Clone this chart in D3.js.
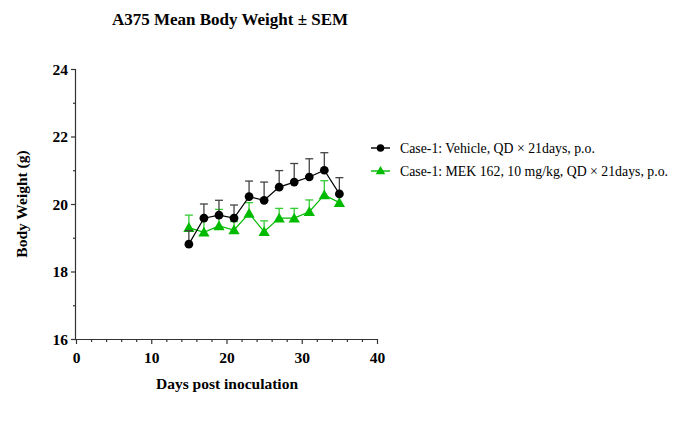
<!DOCTYPE html>
<html><head><meta charset="utf-8">
<script src="https://cdn.jsdelivr.net/npm/d3@7"></script>
<style>body{margin:0;background:#fff}svg{display:block}text{font-family:"Liberation Serif","Times New Roman",serif}</style>
</head><body><svg id="c" width="677" height="424"></svg>
<script>
const days = [15,17,19,21,23,25,27,29,31,33,35];
const vehicleMean = [18.81,19.58,19.67,19.58,20.22,20.11,20.50,20.65,20.80,21.00,20.30];
const vehicleSEM  = [0.40,0.42,0.44,0.39,0.46,0.54,0.49,0.55,0.54,0.52,0.48];
const mekMean = [19.30,19.16,19.35,19.23,19.72,19.18,19.58,19.58,19.77,20.27,20.04];
const mekSEM  = [0.37,0.46,0.49,0.25,0.32,0.32,0.29,0.29,0.35,0.42,0.25];
const xTicks = [0,10,20,30,40];
const yTicks = [16,18,20,22,24];
const seriesNames = ["Case-1: Vehicle, QD × 21days, p.o.","Case-1: MEK 162, 10 mg/kg, QD × 21days, p.o."];
const colors = ["#000000","#00bb00"];

const svg = d3.select("#c");
const x = d3.scaleLinear().domain([0,40]).range([76,377]);
const y = d3.scaleLinear().domain([16,24]).range([339,69]);

// title
svg.append("text").attr("x",230).attr("y",25).attr("text-anchor","middle")
  .style("font-size","17px").style("font-weight","bold").text("A375 Mean Body Weight ± SEM");

// axes
const xAxis = svg.append("g").attr("transform","translate(0,339)")
  .call(d3.axisBottom(x).tickValues(xTicks).tickSize(5).tickFormat(d3.format("d")));
svg.append("g").attr("transform","translate(0,339)")
  .call(d3.axisBottom(x).tickValues(d3.range(2,40,2).filter(d=>d%10)).tickSize(3).tickFormat(""))
  .call(g=>g.select(".domain").remove());
const yAxis = svg.append("g").attr("transform","translate(76,0)")
  .call(d3.axisLeft(y).tickValues(yTicks).tickSize(5).tickFormat(d3.format("d")));
svg.append("g").attr("transform","translate(76,0)")
  .call(d3.axisLeft(y).tickValues([17,19,21,23]).tickSize(3).tickFormat(""))
  .call(g=>g.select(".domain").remove());
svg.selectAll(".domain").attr("stroke","#333").attr("stroke-width",1.2);
svg.selectAll(".tick line").attr("stroke","#333").attr("stroke-width",1.2);
xAxis.selectAll("text").style("font-size","15.5px").style("font-weight","bold")
  .style("font-family","Liberation Serif").attr("fill","#000").attr("dy","1.05em");
yAxis.selectAll("text").style("font-size","15.5px").style("font-weight","bold")
  .style("font-family","Liberation Serif").attr("fill","#000").attr("dy","0.35em");
xAxis.select(".domain").attr("d","M76.5,0.5H377.5");
yAxis.select(".domain").attr("d","M-0.5,69.5V339.5");

// axis titles
svg.append("text").attr("x",227).attr("y",389).attr("text-anchor","middle")
  .style("font-size","15.5px").style("font-weight","bold").text("Days post inoculation");
svg.append("text").attr("transform","translate(27,204) rotate(-90)").attr("text-anchor","middle")
  .style("font-size","15.5px").style("font-weight","bold").text("Body Weight (g)");

const series = [
  {mean:vehicleMean, sem:vehicleSEM, color:colors[0], sym:d3.symbolCircle, size:60, errColor:"#444"},
  {mean:mekMean, sem:mekSEM, color:colors[1], sym:d3.symbolTriangle, size:55, errColor:"#33cc33"}
];
const line = d3.line();
[1,0].forEach(i=>{
  const s = series[i];
  const g = svg.append("g");
  days.forEach((d,j)=>{
    const cx = x(d), top = y(s.mean[j]+s.sem[j]), cy = y(s.mean[j]);
    g.append("line").attr("x1",cx).attr("x2",cx).attr("y1",cy).attr("y2",top).attr("stroke",s.errColor).attr("stroke-width",1.3);
    g.append("line").attr("x1",cx-4).attr("x2",cx+4).attr("y1",top).attr("y2",top).attr("stroke",s.errColor).attr("stroke-width",1.3);
  });
  g.append("path").attr("d",line(days.map((d,j)=>[x(d),y(s.mean[j])])))
    .attr("fill","none").attr("stroke",s.color).attr("stroke-width",1.2);
  g.selectAll("path.m").data(days).join("path").attr("class","m")
    .attr("transform",(d,j)=>`translate(${x(d)},${y(s.mean[j]) + (i===1?1:0)})`)
    .attr("d",d3.symbol().type(s.sym).size(s.size)).attr("fill",s.color);
});

// legend
seriesNames.forEach((n,i)=>{
  const ly = 148 + i*23;
  const s = series[i];
  svg.append("line").attr("x1",371).attr("x2",390).attr("y1",ly).attr("y2",ly).attr("stroke",s.color).attr("stroke-width",1.4);
  svg.append("path").attr("transform",`translate(380.5,${ly+(i===1?0.5:0)})`)
    .attr("d",d3.symbol().type(s.sym).size(i===0?45:40)).attr("fill",s.color);
  svg.append("text").attr("x",400).attr("y",ly+4.5).style("font-size","13.8px").text(n);
});
</script></body></html>
